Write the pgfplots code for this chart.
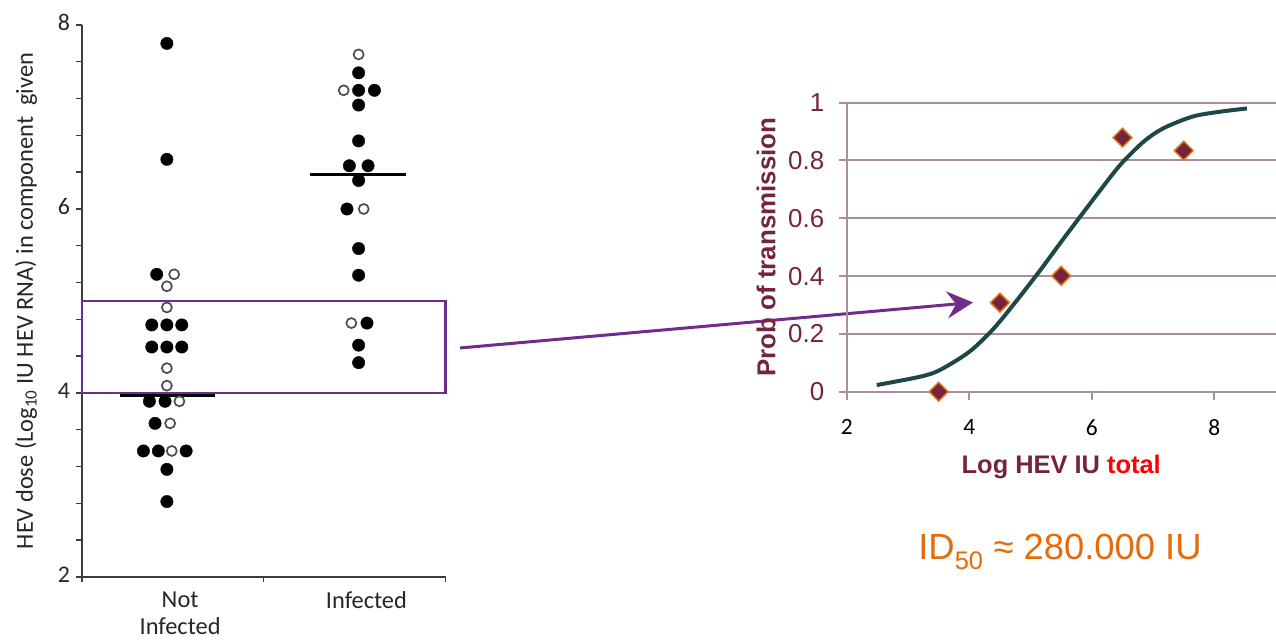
\documentclass[border=0pt]{standalone}
\usepackage{fontspec}
\setmainfont{Carlito}
\newfontfamily\arial{Liberation Sans}
\usepackage{pgfplots}
\usepackage{pgfplotstable}
\pgfplotsset{compat=1.18}
\usetikzlibrary{arrows.meta}
\definecolor{maroon}{RGB}{118,35,64}
\definecolor{gridc}{RGB}{170,142,152}
\definecolor{curvec}{RGB}{30,72,72}
\definecolor{purp}{RGB}{112,44,140}
\definecolor{orng}{RGB}{228,108,10}
\definecolor{diaedge}{RGB}{229,123,18}
\definecolor{axgray}{RGB}{60,60,60}

% Not infected, filled dots
\pgfplotstableread{
x y
0.467 7.80
0.467 6.54
0.411 5.29
0.384 4.74
0.467 4.74
0.549 4.74
0.384 4.50
0.467 4.50
0.549 4.50
0.371 3.91
0.457 3.91
0.402 3.67
0.338 3.37
0.420 3.37
0.573 3.37
0.467 3.17
0.467 2.82
}\nifilled
% Not infected, open dots
\pgfplotstableread{
x y
0.507 5.29
0.467 5.16
0.467 4.93
0.467 4.27
0.467 4.08
0.536 3.91
0.485 3.67
0.494 3.37
}\niopen
% Infected, filled dots
\pgfplotstableread{
x y
1.522 7.48
1.522 7.29
1.609 7.29
1.522 7.13
1.522 6.74
1.471 6.47
1.574 6.47
1.522 6.31
1.458 6.00
1.522 5.57
1.522 5.28
1.568 4.76
1.522 4.52
1.522 4.33
}\infilled
% Infected, open dots
\pgfplotstableread{
x y
1.522 7.68
1.440 7.29
1.550 6.00
1.482 4.76
}\inopen
% Transmission probability
\pgfplotstableread{
x y
3.5 0
4.5 0.308
5.5 0.401
6.5 0.879
7.5 0.834
}\prob
% Fitted curve
\pgfplotstableread{
x y
2.49 0.023
3.20 0.052
3.52 0.075
4.00 0.138
4.40 0.219
4.78 0.317
5.16 0.421
5.48 0.513
5.81 0.606
6.14 0.698
6.46 0.784
6.79 0.855
7.00 0.890
7.23 0.918
7.66 0.953
8.10 0.969
8.53 0.980
}\fit

\begin{document}
\begin{tikzpicture}
\path[use as bounding box] (0,0) rectangle (1276bp,640bp);
\begin{axis}[
  at={(82bp,63bp)}, anchor=south west,
  scale only axis, width=363.5bp, height=552bp,
  xmin=0, xmax=2, ymin=2, ymax=8,
  axis lines=left, axis line style={-, axgray, line width=1.4bp},
  xtick={0,1,2}, xticklabels={,,},
  ytick={2,4,6,8},
  minor ytick={2.4,2.8,3.2,3.6,4.4,4.8,5.2,5.6,6.4,6.8,7.2,7.6},
  tick align=outside,
  major tick length=5.5bp, minor tick length=5.5bp,
  every tick/.style={axgray, line width=1.4bp},
  extra x ticks={0.54,1.565},
  extra x tick labels={Not\\Infected, Infected},
  extra x tick style={major tick length=0pt,
     tick label style={align=center, anchor=north, yshift=-11bp,
       font=\fontsize{24.5}{27}\selectfont, text=black!85}},
  yticklabel style={font=\fontsize{24}{28}\selectfont, text=black!85, yshift=2.5bp, xshift=-3bp},
  /pgf/number format/assume math mode=true,
  ylabel={HEV dose (Log\textsubscript{10} IU HEV RNA) in component\ \ given},
  ylabel style={at={(axis description cs:-0.135,0.5)}, anchor=base,
     font=\fontsize{24.5}{28}\selectfont, text=black!85},
  clip=false,
]
\addplot[only marks, mark=*, mark size=6.2bp, mark options={fill=black, draw=black}] table {\nifilled};
\addplot[only marks, mark=*, mark size=5bp, mark options={fill=white, draw=black!70, line width=1.7bp}] table {\niopen};
\addplot[only marks, mark=*, mark size=6.2bp, mark options={fill=black, draw=black}] table {\infilled};
\addplot[only marks, mark=*, mark size=5bp, mark options={fill=white, draw=black!70, line width=1.7bp}] table {\inopen};
\addplot[black, line width=3bp] coordinates {(0.209,3.97) (0.733,3.97)};
\addplot[black, line width=3bp] coordinates {(1.256,6.37) (1.785,6.37)};
\draw[purp, line width=2.5bp] (axis cs:0,4) rectangle (axis cs:2,5);
\end{axis}

\draw[purp, line width=3bp, -{Stealth[length=26bp,width=27bp,inset=9bp]}] (460bp,292bp) -- (973bp,337.5bp);

\begin{axis}[
  at={(846.7bp,248.3bp)}, anchor=south west,
  scale only axis, width=429bp, height=289bp,
  xmin=2, xmax=9, ymin=0, ymax=1,
  axis lines=left, axis line style={-, gridc, line width=2bp},
  xtick={2,4,6,8}, ytick={0,0.2,0.4,0.6,0.8,1},
  ymajorgrids, grid style={gridc, line width=2bp},
  tick align=outside, major tick length=8bp,
  every tick/.style={gridc, line width=2bp},
  /pgf/number format/assume math mode=true,
  yticklabel style={font=\arial\fontsize{26}{30}\selectfont, text=maroon, xshift=-11bp},
  xticklabel style={font=\fontsize{23.5}{28}\selectfont, text=black, yshift=-16bp},
  xlabel={Log HEV IU \textcolor{red}{total}},
  xlabel style={font=\arial\bfseries\fontsize{25.5}{30}\selectfont, text=maroon,
     at={(axis description cs:0.5,0)}, anchor=base, yshift=-82bp},
  ylabel={Prob of transmission},
  ylabel style={font=\arial\bfseries\fontsize{26}{30}\selectfont, text=maroon,
     at={(axis description cs:-0.188,0.5)}, anchor=center},
  clip=false,
]
\addplot[curvec, line width=4bp, smooth] table {\fit};
\addplot[only marks, mark=square*, mark size=6.7bp,
   mark options={rotate=45, fill=maroon, draw=diaedge, line width=1.5bp}] table {\prob};
\end{axis}

\node[font=\arial\fontsize{36.5}{40}\selectfont, text=orng, anchor=base] at (1060bp,80bp)
  {ID\textsubscript{50} ≈ 280.000 IU};
\end{tikzpicture}
\end{document}
